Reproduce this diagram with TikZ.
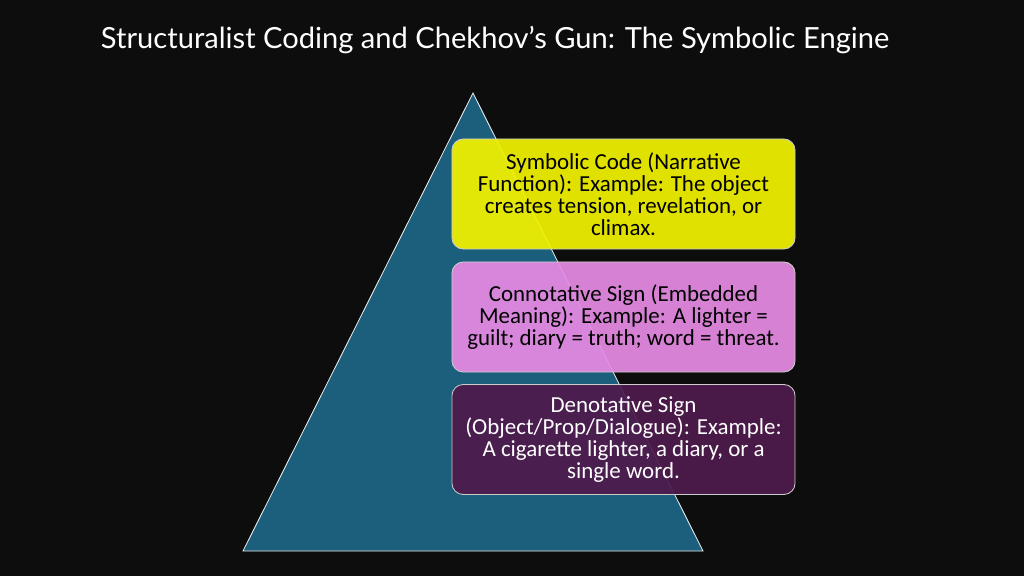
\documentclass[tikz,border=0pt]{standalone}
\usepackage{fontspec}
\setmainfont{Carlito}
\newfontfamily\titlefont{Lato}
\usetikzlibrary{positioning}
\definecolor{pyramidblue}{HTML}{1B5F7C}
\definecolor{symyellow}{HTML}{F2F200}
\definecolor{conpink}{HTML}{E68AE4}
\definecolor{denpurple}{HTML}{4E1A4C}
\begin{document}
\begin{tikzpicture}[x=0.025cm, y=-0.025cm,
  level/.style={draw=white!60!gray, line width=0.6pt, rounded corners=8pt, minimum width=8.575cm, minimum height=2.75cm, align=center, font=\fontsize{16.3}{15.7}\selectfont, fill opacity=0.93, text opacity=1}
]
\fill[black!95] (0,0) rectangle (1024,576);
\node[text=white, font=\titlefont\fontsize{20.7}{23}\selectfont, anchor=west] (title) at (96,40) {Structuralist Coding and Chekhov’s Gun: The Symbolic Engine};
\draw[fill=pyramidblue, draw=white!85!gray, line width=0.6pt] (473,93) -- (703,551) -- (243,551) -- cycle;
\node[level, fill=symyellow, text=black] (symbolic) at (623.5,194) {Symbolic Code (Narrative\\Function): Example: The object\\creates tension, revelation, or\\climax.};
\node[level, fill=conpink, text=black] (connotative) at (623.5,317) {Connotative Sign (Embedded\\Meaning): Example: A lighter =\\guilt; diary = truth; word = threat.};
\node[level, fill=denpurple, text=white] (denotative) at (623.5,439.5) {Denotative Sign\\(Object/Prop/Dialogue): Example:\\A cigarette lighter, a diary, or a\\single word.};
\end{tikzpicture}
\end{document}
